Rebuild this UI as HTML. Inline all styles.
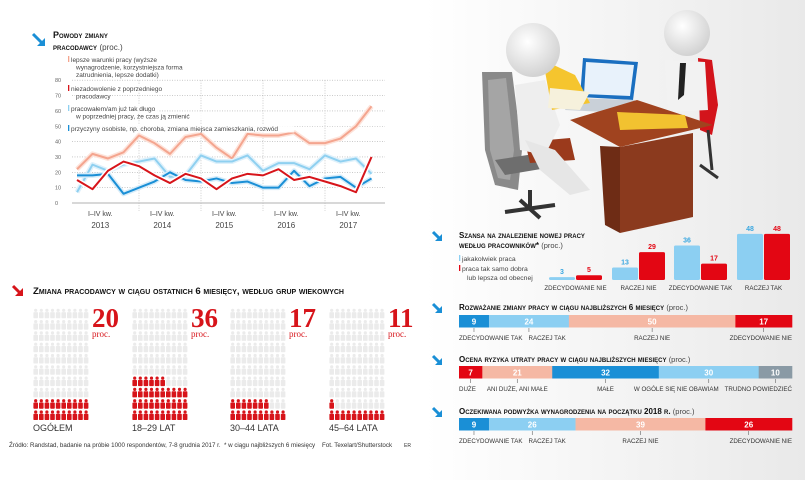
<!DOCTYPE html>
<html><head><meta charset="utf-8">
<style>
html,body{margin:0;padding:0;background:#fff;}
svg{display:block;font-family:"Liberation Sans",sans-serif;}
.t{font-weight:bold;font-variant:small-caps;fill:#111;}
</style></head>
<body>
<svg id="s" width="805" height="480" viewBox="0 0 805 480" xmlns="http://www.w3.org/2000/svg">
<defs>
<linearGradient id="bg" x1="0" x2="1" y1="0" y2="0">
<stop offset="0" stop-color="#ffffff"/><stop offset="1" stop-color="#e9e9e9"/></linearGradient>
<radialGradient id="head" cx="0.4" cy="0.35" r="0.7"><stop offset="0" stop-color="#fff"/><stop offset="1" stop-color="#cfcfcf"/></radialGradient>
</defs>
<rect x="425" y="0" width="380" height="480" fill="url(#bg)"/>

<g>
<polygon points="482,72 512,72 522,150 518,190 495,185 485,150" fill="#8a8a8a"/>
<polygon points="488,80 506,78 514,150 510,180 498,178 490,150" fill="#a5a5a5"/>
<polygon points="495,160 560,150 565,165 505,175" fill="#6e6e6e"/>
<path d="M530,190 L530,210 M505,212 L555,205 M520,200 L540,218" stroke="#333" stroke-width="4"/>
<polygon points="525,142 570,138 575,160 530,163" fill="#9b3a1c"/>
<polygon points="698,58 712,60 718,105 712,135 700,130" fill="#d3141b"/>
<path d="M708,130 L712,170 M700,165 L718,178" stroke="#333" stroke-width="3"/>
<polygon points="665,60 705,62 708,110 668,112" fill="#f2f2f2"/>
<polygon points="680,63 686,63 684,95 678,100" fill="#222"/>
<circle cx="687" cy="33" r="23" fill="url(#head)"/>
<polygon points="583,58 638,62 633,100 580,97" fill="#1a6fc0"/>
<polygon points="586,62 634,65 630,96 584,94" fill="#e8f2fb"/>
<polygon points="572,98 635,100 625,113 565,110" fill="#c9d0d8"/>
<polygon points="570,120 637,100 713,125 620,147" fill="#a0431f"/>
<polygon points="620,147 693,133 693,217 620,233" fill="#8b3a1e"/>
<polygon points="600,146 620,147 620,233 605,225" fill="#6e2c15"/>
<polygon points="617,112 685,115 688,128 620,130" fill="#f2c230"/>
<polygon points="515,85 545,80 560,125 545,155 520,150" fill="#eeeeee"/>
<polygon points="543,60 575,75 590,103 552,110" fill="#f5c52e"/>
<polygon points="550,88 590,92 580,110 548,108" fill="#f6f1dc"/>
<polygon points="525,140 555,150 590,190 570,195 540,170" fill="#e6e6e6"/>
<circle cx="533" cy="50" r="27" fill="url(#head)"/>
</g>

<g>
<path d="M33,34 L42,43" stroke="#1a8fd6" stroke-width="3"/>
<polygon points="45,46 37,46 45,38" fill="#1a8fd6"/>
<text x="53" y="38" class="t" font-size="9">Powody zmiany</text>
<text x="53" y="50" class="t" font-size="9">pracodawcy <tspan font-weight="normal" font-variant="normal" fill="#444" font-size="8">(proc.)</tspan></text>
<g id="lc"></g>
</g>

<g>
<path d="M13,286 L21,294" stroke="#d7141a" stroke-width="3"/>
<polygon points="23,296 15,296 23,288" fill="#d7141a"/>
<text x="33" y="294" class="t" font-size="9.6">Zmiana pracodawcy w ciągu ostatnich 6 miesięcy, według grup wiekowych</text>
<g id="pic"></g>
<text x="9" y="447" font-size="6.2" fill="#333">Źródło: Randstad, badanie na próbie 1000 respondentów, 7-8 grudnia 2017 r.</text>
<text x="224" y="447" font-size="6.2" fill="#333">* w ciągu najbliższych 6 miesięcy</text>
<text x="322" y="447" font-size="6.2" fill="#333">Fot. Texelart/Shutterstock</text>
<text x="404" y="447" font-size="5" fill="#333">ER</text>
</g>

<g>
<path d="M433,232 L440,239" stroke="#1a8fd6" stroke-width="3"/><polygon points="442,241 435,241 442,234" fill="#1a8fd6"/>
<text x="459" y="238" class="t" font-size="8">Szansa na znalezienie nowej pracy</text>
<text x="459" y="248" class="t" font-size="8">według pracowników* <tspan font-weight="normal" font-variant="normal" fill="#444" font-size="7.5">(proc.)</tspan></text>
<rect x="459" y="255" width="1.3" height="6" fill="#8ccff2"/>
<text x="462" y="261" font-size="6.8" fill="#444">jakakolwiek praca</text>
<rect x="459" y="265" width="1.3" height="6" fill="#e30613"/>
<text x="462" y="271" font-size="6.8" fill="#444">praca tak samo dobra</text>
<text x="467" y="280" font-size="6.8" fill="#444">lub lepsza od obecnej</text>
<g id="gb"></g>
</g>
<g id="stk"></g>
</svg>
<script>
const NS='http://www.w3.org/2000/svg';
function mk(p,tag,a,txt){const e=document.createElementNS(NS,tag);for(const k in a)e.setAttribute(k,a[k]);if(txt!==undefined)e.textContent=txt;p.appendChild(e);return e;}

const years=['2013','2014','2015','2016','2017'];
const yTicks=[0,10,20,30,40,50,60,70,80];
const betterConditions=[22,32,29,33,44,39,32,43,45,36,29,45,44,44,46,39,39,42,50,63];
const dissatisfied=[15,9,21,27,24,18,13,19,16,9,16,19,18,22,15,17,14,11,7,30];
const tooLong=[7,25,21,25,27,29,17,18,31,27,27,31,21,26,26,22,31,27,29,19];
const personal=[18,18,19,6,10,14,20,15,14,16,13,14,10,10,21,11,16,17,10,16];

const lc=document.getElementById('lc');
const X0=77,DX=15.5,Y0=203,SY=15.35/10;
const xs=i=>X0+i*DX, ys=v=>Y0-v*SY;
yTicks.forEach(t=>{
  if(t>0){const g=mk(lc,'line',{x1:72,x2:385,y1:ys(t),y2:ys(t),stroke:'#aaa','stroke-width':0.6,'stroke-dasharray':'1,1.5'});
  }
  const l=mk(lc,'text',{x:55,y:ys(t)+2,'font-size':5.5,fill:'#666'},t);
  
});
years.forEach((y,k)=>{
  const bx=X0+k*4*DX;
  if(k>0){const v=mk(lc,'line',{x1:bx,x2:bx,y1:ys(80),y2:Y0+8,stroke:'#aaa','stroke-width':0.6,'stroke-dasharray':'1,1.5'});
  }
  const cx=X0+(k*4+2)*DX-DX/2;
  const a=mk(lc,'text',{x:cx,y:216,'font-size':7,fill:'#444','text-anchor':'middle'},'I–IV kw.');
  
  const b=mk(lc,'text',{x:cx,y:228,'font-size':8,fill:'#444','text-anchor':'middle'},y);
  
});
const ax=mk(lc,'line',{x1:72,x2:385,y1:Y0,y2:Y0,stroke:'#999','stroke-width':0.8});

[[betterConditions,'#f4a58f','#fde3da','better-conditions'],[tooLong,'#8fd0f0','#dff1fb','too-long'],[personal,'#1a8fd6','#d6ecf9','personal'],[dissatisfied,'#d7141a','#fff','dissatisfied']].forEach(([d,c,h,n])=>{
  const pts=d.map((v,i)=>xs(i)+','+ys(v)).join(' ');
  mk(lc,'polyline',{points:pts,fill:'none',stroke:h,'stroke-width':5,'stroke-linejoin':'round'});
  const p=mk(lc,'polyline',{points:pts,fill:'none',stroke:c,'stroke-width':2,'stroke-linejoin':'round'});
  
});
const leg=[[62,'#f4a58f',['lepsze warunki pracy (wyższe','wynagrodzenie, korzystniejsza forma','zatrudnienia, lepsze dodatki)']],
[91,'#d7141a',['niezadowolenie z poprzedniego','pracodawcy']],
[111,'#8fd0f0',['pracowałem/am już tak długo','w poprzedniej pracy, że czas ją zmienić']],
[131,'#1a8fd6',['przyczyny osobiste, np. choroba, zmiana miejsca zamieszkania, rozwód']]];
leg.forEach(([y,c,ls],k)=>{
  mk(lc,'rect',{x:68,y:y-6,width:1.3,height:6,fill:c});
  ls.forEach((s,j)=>{const bgw=s.length*3.3;mk(lc,'rect',{x:(j?76:71)-1,y:y+j*7.5-6,width:bgw,height:7.5,fill:'#fff',opacity:0.85});
   const t=mk(lc,'text',{x:j?76:71,y:y+j*7.5,'font-size':6.5,fill:'#444'},s);
   });
});

const groups=['OGÓŁEM','18–29 LAT','30–44 LATA','45–64 LATA'];
const groupPct=[20,36,17,11];
const pic=document.getElementById('pic');
const GX=[33,132,230,329];
groups.forEach((g,k)=>{
  const gg=mk(pic,'g',{});
  
  for(let n=0;n<100;n++){
    const row=Math.floor(n/10),col=n%10;
    const x=GX[k]+col*5.6+2.7,yb=420-row*11.3;
    const c=n<groupPct[k]?'#d7141a':'#ebebeb';
    mk(gg,'circle',{cx:x,cy:yb-8,r:1.6,fill:c});
    mk(gg,'rect',{x:x-2.3,y:yb-6.2,width:4.6,height:6.2,rx:0.8,fill:c});
  }
  const v=mk(pic,'text',{x:GX[k]+59,y:327,'font-size':27,'font-family':'Liberation Serif, serif','font-weight':'bold',fill:'#d7141a'},groupPct[k]);
  
  mk(pic,'text',{x:GX[k]+59,y:337,'font-size':9,'font-family':'Liberation Serif, serif',fill:'#d7141a'},'proc.');
  const l=mk(pic,'text',{x:GX[k],y:431,'font-size':9,fill:'#333'},g);
  
});

const chanceCats=['ZDECYDOWANIE NIE','RACZEJ NIE','ZDECYDOWANIE TAK','RACZEJ TAK'];
const anyJob=[3,13,36,48];
const sameOrBetter=[5,29,17,48];
const gb=document.getElementById('gb');
const GB0=280,GS=0.96,GXs=[549,612,674,737];
chanceCats.forEach((c,k)=>{
  [[anyJob[k],'#8ccff2','#3aa7e0',0],[sameOrBetter[k],'#e30613','#e30613',27]].forEach(([v,col,tc,off],j)=>{
    const h=v*GS;
    const r=mk(gb,'rect',{x:GXs[k]+off,y:GB0-h,width:26,height:h,rx:1.5,fill:col});
    
    mk(gb,'text',{x:GXs[k]+off+13,y:GB0-h-3,'font-size':7,'font-weight':'bold',fill:tc,'text-anchor':'middle'},v);
  });
  const t=mk(gb,'text',{x:GXs[k]+26.5,y:290,'font-size':6.2,fill:'#333','text-anchor':'middle'},c);
  
});

const bar1Vals=[9,24,50,17];const bar1Labels=['ZDECYDOWANIE TAK','RACZEJ TAK','RACZEJ NIE','ZDECYDOWANIE NIE'];
const bar2Vals=[7,21,32,30,10];const bar2Labels=['DUŻE','ANI DUŻE, ANI MAŁE','MAŁE','W OGÓLE SIĘ NIE OBAWIAM','TRUDNO POWIEDZIEĆ'];
const bar3Vals=[9,26,39,26];const bar3Labels=['ZDECYDOWANIE TAK','RACZEJ TAK','RACZEJ NIE','ZDECYDOWANIE NIE'];
const stk=document.getElementById('stk');
const SX0=459,SW=333;
function stacked(name,title,ty,by,vals,labs,cols){
  const g=mk(stk,'g',{});
  
  mk(g,'path',{d:`M433,${ty-6} L440,${ty+1}`,stroke:'#1a8fd6','stroke-width':3});
  mk(g,'polygon',{points:`442,${ty+3} 435,${ty+3} 442,${ty-4}`,fill:'#1a8fd6'});
  const tt=mk(g,'text',{x:459,y:ty,'font-size':8,class:'t'});tt.textContent=title+' ';
  mk(tt,'tspan',{'font-weight':'normal','font-variant':'normal',fill:'#444','font-size':7.5},'(proc.)');
  
  const tot=vals.reduce((a,b)=>a+b,0);let acc=0;
  const labels=[];
  vals.forEach((v,i)=>{
    const x=SX0+acc/tot*SW,w=v/tot*SW;acc+=v;
    const r=mk(g,'rect',{x:x,y:by,width:w+0.3,height:12.5,fill:cols[i]});
    
    mk(g,'text',{x:x+w/2,y:by+9.5,'font-size':8,'font-weight':'bold',fill:'#fff','text-anchor':'middle'},v);
    mk(g,'line',{x1:x+w/2,x2:x+w/2,y1:by+13,y2:by+17,stroke:'#666','stroke-width':0.6});
    const l=mk(g,'text',{x:0,y:by+25,'font-size':6.2,fill:'#333'},labs[i]);
    
    labels.push({el:l,c:x+w/2,w:l.getComputedTextLength()});
  });
  // layout labels: centered on tick, clamped, no overlap
  const n=labels.length,gap=6;
  labels.forEach((L,i)=>{L.x=L.c-L.w/2;});
  labels[0].x=SX0;labels[n-1].x=SX0+SW-labels[n-1].w;
  for(let i=1;i<n;i++){const p=labels[i-1];if(labels[i].x<p.x+p.w+gap)labels[i].x=p.x+p.w+gap;}
  labels[n-1].x=Math.min(labels[n-1].x,SX0+SW-labels[n-1].w);
  for(let i=n-2;i>=0;i--){const q=labels[i+1];if(labels[i].x+labels[i].w+gap>q.x)labels[i].x=q.x-gap-labels[i].w;}
  labels.forEach(L=>L.el.setAttribute('x',L.x));
}
const B='#1a8fd6',LB='#8ccff2',S='#f5b8a4',R='#e30613',G='#8a9aa5';
stacked('consider-change','Rozważanie zmiany pracy w ciągu najbliższych 6 miesięcy',310,315,bar1Vals,bar1Labels,[B,LB,S,R]);
stacked('job-loss-risk','Ocena ryzyka utraty pracy w ciągu najbliższych miesięcy',362,366,bar2Vals,bar2Labels,[R,S,B,LB,G]);
stacked('raise-expectation','Oczekiwana podwyżka wynagrodzenia na początku 2018 r.',414,418,bar3Vals,bar3Labels,[B,LB,S,R]);
</script>
</body></html>
